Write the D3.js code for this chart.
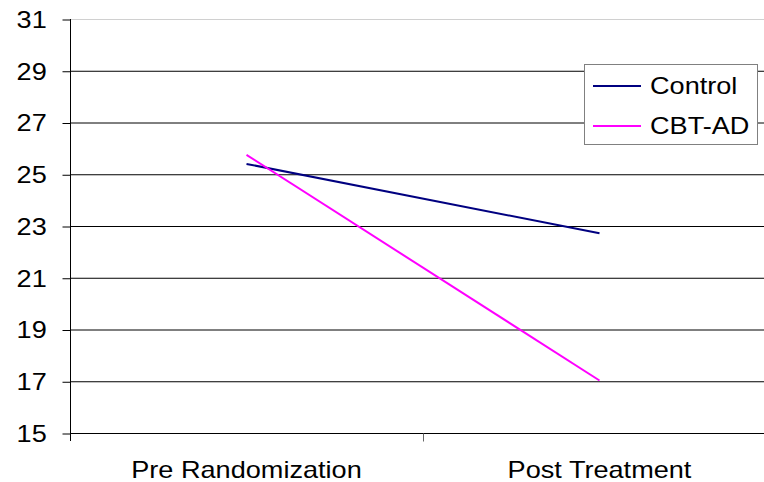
<!DOCTYPE html>
<html>
<head>
<meta charset="utf-8">
<script src="https://cdn.jsdelivr.net/npm/d3@7"></script>
<style>
  body { margin: 0; background: #fff; }
  text { font-family: Arial, "Liberation Sans", sans-serif; fill: #000; }
</style>
</head>
<body>
<div id="chart"></div>
<script>
// data
const categories = ["Pre Randomization", "Post Treatment"];
const seriesNames = ["Control", "CBT-AD"];
const controlValues = [25.4, 22.72];
const cbtValues = [25.75, 17.03];
const yTicks = [15, 17, 19, 21, 23, 25, 27, 29, 31];

const colors = ["#000080", "#FF00FF"];
const stretch = "scale(1.13,1)"; // the reference text is a bit wide

const margin = {top: 19, right: -12, bottom: 49, left: 70};
const width = 764 - margin.left - margin.right;
const height = 482 - margin.top - margin.bottom;

const svg = d3.select("#chart")
    .append("svg")
    .attr("width", 764)
    .attr("height", 482)
    .append("g")
    .attr("transform", `translate(${margin.left},${margin.top})`);

const x = d3.scaleBand().domain(categories).range([0, width]).padding(0);
const y = d3.scaleLinear().domain([15, 31]).range([height, 0]);

// gridlines
svg.selectAll(".grid")
    .data(yTicks.filter(d => d > 15))
    .enter()
    .append("line")
    .attr("class", "grid")
    .attr("x1", 0)
    .attr("x2", width)
    .attr("y1", d => y(d) + 0.5)
    .attr("y2", d => y(d) + 0.5)
    .attr("stroke", d => d === 31 ? "#d0d0d0" : "#000")
    .attr("stroke-width", 1);

// y axis
const yAxis = svg.append("g")
    .attr("class", "y-axis")
    .attr("transform", "translate(0.5,0)")
    .call(d3.axisLeft(y).tickValues(yTicks).tickSize(8).tickPadding(13).tickSizeOuter(0));
yAxis.select(".domain").attr("stroke", "#000");
yAxis.selectAll(".tick line").attr("stroke", "#000").attr("transform", "translate(0,0.5)");
yAxis.selectAll(".tick text")
    .style("font-size", "24px")
    .attr("dy", "0.35em")
    .attr("transform", stretch);
yAxis.select(".domain").attr("d", `M0,0V${height + 8}`);

// x axis
const xAxis = svg.append("g")
    .attr("class", "x-axis")
    .attr("transform", `translate(0,${height + 0.5})`);
xAxis.append("line")
    .attr("x1", 0).attr("x2", width)
    .attr("stroke", "#000");
xAxis.selectAll(".xtick")
    .data(categories.slice(1))
    .enter()
    .append("line")
    .attr("x1", d => x(d) + 0.5)
    .attr("x2", d => x(d) + 0.5)
    .attr("y1", 0).attr("y2", 8)
    .attr("stroke", "#666");
xAxis.selectAll(".xlabel")
    .data(categories)
    .enter()
    .append("text")
    .attr("transform", d => `translate(${x(d) + x.bandwidth() / 2},44) ${stretch}`)
    .attr("text-anchor", "middle")
    .style("font-size", "24px")
    .text(d => d);

// lines
const line = d3.line()
    .x(d => x(d.cat) + x.bandwidth() / 2)
    .y(d => y(d.value));

const series = [controlValues, cbtValues].map((vals, i) => ({
    name: seriesNames[i],
    values: vals.map((v, j) => ({cat: categories[j], value: v}))
}));

svg.selectAll(".line")
    .data(series)
    .enter()
    .append("path")
    .attr("class", "line")
    .attr("fill", "none")
    .attr("stroke", (d, i) => colors[i])
    .attr("stroke-width", 2)
    .attr("d", d => line(d.values));

// legend
const legend = svg.append("g")
    .attr("transform", `translate(${584 - margin.left},${64 - margin.top})`);
legend.append("rect")
    .attr("x", 0.5).attr("y", 0.5)
    .attr("width", 173).attr("height", 80)
    .attr("fill", "#fff")
    .attr("stroke", "#808080");
const item = legend.selectAll(".item")
    .data(seriesNames)
    .enter()
    .append("g")
    .attr("class", "item")
    .attr("transform", (d, i) => `translate(0,${22 + i * 40})`);
item.append("line")
    .attr("x1", 9).attr("x2", 57)
    .attr("stroke", (d, i) => colors[i])
    .attr("stroke-width", 2);
item.append("text")
    .attr("transform", `translate(66,0) ${stretch}`)
    .attr("dy", "0.35em")
    .style("font-size", "24px")
    .text(d => d);
</script>
</body>
</html>
